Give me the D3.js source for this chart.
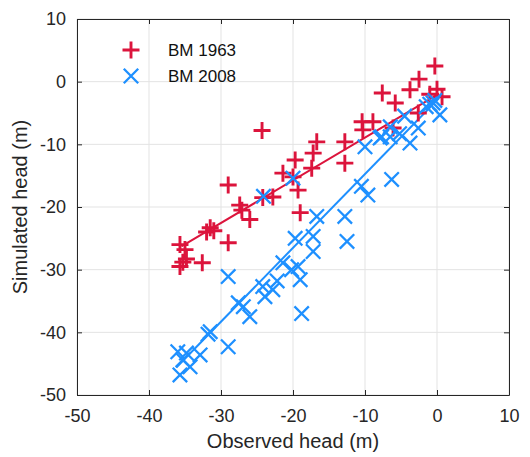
<!DOCTYPE html>
<html><head><meta charset="utf-8">
<script src="https://cdn.jsdelivr.net/npm/d3@7"></script>
<style>body{margin:0;background:#fff;}svg{display:block;font-family:"Liberation Sans",Arial,sans-serif;}</style>
</head><body><svg id="c" width="530" height="457"></svg>
<script>
const xTicks = [-50,-40,-30,-20,-10,0,10];
const yTicks = [-50,-40,-30,-20,-10,0,10];
const seriesNames = ["BM 1963","BM 2008"];
const seriesColors = ["#DC143C","#1E90FF"];
const bm1963 = [[-0.3,2.5],[-2.5,0.4],[-3.75,-1.3],[-7.6,-1.8],[0,-1.2],[0.7,-2.4],[-1,-2],[-5.8,-3.4],[-2.6,-5],[-10.4,-6.4],[-8.9,-6.4],[-10.3,-7.7],[-6.1,-7.4],[-12.8,-9.6],[-12.8,-13],[-16.7,-9.6],[-17.2,-11.4],[-19.7,-12.5],[-17.4,-13.8],[-21.4,-14.6],[-20,-15.2],[-19.3,-17.3],[-22.8,-18.4],[-19,-20.9],[-24.3,-7.8],[-29,-16.5],[-27.4,-19.7],[-27.1,-20.5],[-26,-22],[-24.2,-18.5],[-31.5,-23.3],[-31,-23.8],[-32,-24],[-29,-25.7],[-35.7,-26],[-35,-26.8],[-35.3,-28.8],[-32.6,-28.9],[-35.7,-29.5],[-34.8,-28.3]];
const bm2008 = [[0.4,-5.3],[-0.55,-3.4],[-0.3,-3],[-1.5,-4],[-1,-3.6],[-2.6,-7.4],[-3.75,-9.8],[-6.3,-15.6],[-7.7,-8.8],[-6.5,-8.8],[-5.2,-8.3],[-6.5,-7.2],[-4.5,-5.5],[-10,-10.4],[-7.9,-9],[-10.5,-16.7],[-9.6,-18.1],[-16.7,-21.5],[-12.8,-21.5],[-19.7,-25],[-17.2,-24.7],[-12.5,-25.5],[-17.2,-27.1],[-21.4,-28.9],[-20.2,-30],[-19.3,-29.5],[-19,-31.6],[-18.8,-37],[-22.2,-31.8],[-24.2,-32.7],[-22.8,-33.2],[-23.9,-34.3],[-27.6,-35.3],[-26.9,-35.9],[-26,-37.5],[-29,-31.1],[-31.5,-39.9],[-31.8,-40.3],[-29,-42.3],[-36,-43.1],[-34.8,-43.3],[-35.3,-44.4],[-32.9,-43.6],[-35.7,-46.8],[-34.3,-45.5],[-24.1,-18.3],[-20,-15.4]];
const fit1963 = [[-35.5,-26.3],[0.3,-1.9]];
const fit2008 = [[-36.2,-45.6],[0.3,-2.6]];

const svg = d3.select("#c");
const m = {l:77, t:19, r:21, b:62};
const W = 530, H = 457;
const x = d3.scaleLinear().domain([-50,10]).range([m.l, W-m.r]);
const y = d3.scaleLinear().domain([-50,10]).range([H-m.b, m.t]);
const axisCol = "#262626";
const fmt = d => String(d);

// grid
svg.append("g").selectAll("line").data(xTicks).join("line")
  .attr("x1",d=>x(d)).attr("x2",d=>x(d)).attr("y1",m.t).attr("y2",H-m.b)
  .attr("stroke","#e3e3e3").attr("stroke-width",1);
svg.append("g").selectAll("line").data(yTicks).join("line")
  .attr("y1",d=>y(d)).attr("y2",d=>y(d)).attr("x1",m.l).attr("x2",W-m.r)
  .attr("stroke","#e3e3e3").attr("stroke-width",1);

// axes
const xa = svg.append("g").attr("transform",`translate(0,${H-m.b})`)
  .call(d3.axisBottom(x).tickValues(xTicks).tickFormat(fmt).tickSizeInner(-5).tickSizeOuter(0).tickPadding(14));
const ya = svg.append("g").attr("transform",`translate(${m.l},0)`)
  .call(d3.axisLeft(y).tickValues(yTicks).tickFormat(fmt).tickSizeInner(-5).tickSizeOuter(0).tickPadding(11));
const xt = svg.append("g").attr("transform",`translate(0,${m.t})`)
  .call(d3.axisTop(x).tickValues(xTicks).tickSizeInner(-5).tickSizeOuter(0).tickFormat(""));
const yr = svg.append("g").attr("transform",`translate(${W-m.r},0)`)
  .call(d3.axisRight(y).tickValues(yTicks).tickSizeInner(-5).tickSizeOuter(0).tickFormat(""));
[xa,ya,xt,yr].forEach(g=>{
  g.select(".domain").attr("stroke",axisCol);
  g.selectAll(".tick line").attr("stroke",axisCol);
  g.selectAll(".tick text").attr("fill",axisCol).attr("font-size",18).attr("font-family","Liberation Sans, Arial, sans-serif");
});

// fit lines
const line = d3.line().x(d=>x(d[0])).y(d=>y(d[1]));
svg.append("path").datum(fit1963).attr("d",line).attr("stroke",seriesColors[0]).attr("stroke-width",2).attr("fill","none");
svg.append("path").datum(fit2008).attr("d",line).attr("stroke",seriesColors[1]).attr("stroke-width",2).attr("fill","none");

// markers
const plusPath = (s)=>`M${-s},0H${s}M0,${-s}V${s}`;
const xPath = (s)=>`M${-s},${-s}L${s},${s}M${-s},${s}L${s},${-s}`;
svg.append("g").selectAll("path").data(bm1963).join("path")
  .attr("transform",d=>`translate(${x(d[0])},${y(d[1])})`)
  .attr("d",plusPath(8.5)).attr("stroke",seriesColors[0]).attr("stroke-width",2.9).attr("fill","none");
svg.append("g").selectAll("path").data(bm2008).join("path")
  .attr("transform",d=>`translate(${x(d[0])},${y(d[1])})`)
  .attr("d",xPath(7.2)).attr("stroke",seriesColors[1]).attr("stroke-width",2.3).attr("fill","none");

// legend
const lg = svg.append("g");
const markers = [plusPath(8.5), xPath(7.2)];
seriesNames.forEach((n,i)=>{
  const yy = 50 + i*26;
  lg.append("path").attr("transform",`translate(131,${yy})`).attr("d",markers[i])
    .attr("stroke",seriesColors[i]).attr("stroke-width",i?2.3:2.9).attr("fill","none");
  lg.append("text").attr("x",168).attr("y",yy).attr("dy","0.36em").attr("font-size",17)
    .attr("fill","#111").text(n);
});

// titles
svg.append("text").attr("x",(m.l+W-m.r)/2).attr("y",448).attr("text-anchor","middle")
  .attr("font-size",20).attr("fill",axisCol).text("Observed head (m)");
svg.append("text").attr("transform",`translate(27,${(m.t+H-m.b)/2}) rotate(-90)`).attr("text-anchor","middle")
  .attr("font-size",20).attr("fill",axisCol).text("Simulated head (m)");
</script></body></html>
